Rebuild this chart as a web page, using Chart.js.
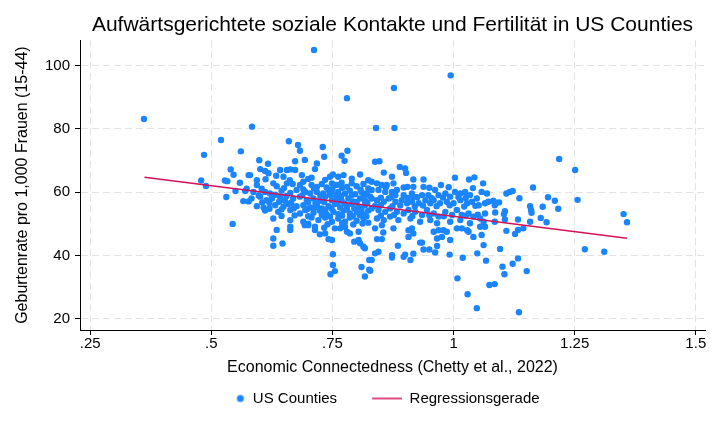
<!DOCTYPE html>
<html>
<head>
<meta charset="utf-8">
<title>Soziale Kontakte und Fertilität</title>
<script src="https://cdn.jsdelivr.net/npm/chart.js@4"></script>
<style>
  html, body { margin: 0; padding: 0; background: #fff; }
</style>
</head>
<body>
<canvas id="chart" width="720" height="432"></canvas>
<script>
// Werte: [Economic Connectedness, Geburtenrate]
const topOutliers = [[0.361,83.1],[0.712,104.9],[0.994,96.9],[0.780,89.7],[0.877,92.9],[0.584,80.7],[0.840,80.3],[0.878,80.3]];

const leftCounties = [[0.520,76.5],[0.485,71.8],[0.561,72.9],[0.540,67.2],[0.546,65.5],[0.479,63.7],[0.489,62.0],[0.528,63.7],[0.533,63.5],[0.559,63.0],[0.577,65.4],[0.550,60.4],[0.570,60.4],[0.573,61.1],[0.531,58.5],[0.566,57.2],[0.577,57.1],[0.544,50.0]];

const upperCore = [[0.660,76.1],[0.679,74.9],[0.683,73.1],[0.730,74.3],[0.733,71.2],[0.769,71.5],[0.781,73.1],[0.775,69.9],[0.599,70.1],[0.617,69.0],[0.673,69.8],[0.693,70.2],[0.718,69.1],[0.601,67.3],[0.611,66.7],[0.618,66.0],[0.642,67.0],[0.656,67.0],[0.663,67.2],[0.673,67.0],[0.714,67.3],[0.838,69.6],[0.847,69.8],[0.856,66.2],[0.889,68.0],[0.900,67.5],[0.902,66.1]];

const midCore = [
  [0.580,65.4],[0.594,63.8],[0.634,65.2],[0.649,64.9],[0.687,65.4],[0.707,64.6],[0.745,64.9],[0.751,65.6],[0.762,64.9],[0.773,65.4],[0.807,65.6],[0.824,63.8],
  [0.594,62.3],[0.628,62.8],[0.635,61.9],[0.656,62.8],[0.668,62.6],[0.683,62.3],[0.690,63.3],[0.707,62.3],[0.718,61.7],[0.728,62.6],[0.738,61.5],[0.749,62.8],[0.759,62.3],[0.769,63.0],[0.780,61.7],[0.790,62.8],[0.800,61.9],[0.814,62.6],[0.824,61.2],
  [0.587,60.1],[0.611,60.1],[0.621,59.6],[0.645,60.5],[0.663,59.8],[0.676,60.7],[0.694,60.1],[0.704,59.6],[0.718,60.1],[0.731,59.6],[0.742,60.7],[0.752,59.4],[0.762,60.1],[0.776,59.6],[0.786,60.5],[0.797,59.4],[0.810,60.1],[0.821,59.6],
  [0.583,58.0],[0.601,58.6],[0.614,57.5],[0.625,58.0],[0.642,58.6],[0.652,57.3],[0.669,58.0],[0.683,58.6],[0.697,57.5],[0.711,58.0],[0.724,57.3],[0.735,58.6],[0.749,57.5],[0.759,58.4],[0.769,57.3],[0.783,58.0],[0.793,57.1],[0.807,58.0],[0.817,57.3],[0.828,58.6],
  [0.594,55.6],[0.608,55.2],[0.632,55.9],[0.649,55.4],[0.659,56.3],[0.676,55.6],[0.690,55.9],[0.704,55.2],[0.718,55.9],[0.728,54.9],[0.742,55.6],[0.755,56.3],[0.766,55.2],[0.780,55.6],[0.790,56.3],[0.804,55.4],[0.817,55.9],
  [0.611,54.2],[0.638,53.8],[0.663,54.4],[0.683,53.3],[0.694,54.4],[0.711,53.5],[0.724,54.2],[0.738,53.1],[0.752,53.8],[0.762,53.1],[0.773,54.2],[0.786,53.3],[0.800,53.8],[0.814,53.1],[0.824,54.2],
  [0.628,51.7],[0.663,51.2],[0.690,50.7],[0.707,52.0],[0.721,51.2],[0.735,52.0],[0.749,50.7],[0.762,51.7],[0.776,50.7],[0.786,52.0],[0.800,51.0],[0.814,51.7],[0.824,50.4]
];

// Punkte zwischen den Reihen im dichten Kern
const coreFill = [
  [0.612,64.1],[0.662,63.8],[0.700,64.2],[0.735,63.9],[0.790,64.3],
  [0.604,61.1],[0.650,61.3],[0.690,60.9],[0.712,61.2],[0.750,61.0],[0.770,61.4],[0.808,60.8],
  [0.598,59.0],[0.632,59.2],[0.655,58.8],[0.688,59.1],[0.725,58.9],[0.745,59.2],[0.768,58.8],[0.790,59.1],[0.815,58.9],
  [0.605,56.8],[0.620,56.6],[0.640,57.0],[0.665,56.7],[0.700,56.9],[0.715,56.5],[0.733,56.9],[0.760,56.7],[0.775,56.4],[0.800,56.9],[0.822,56.6],
  [0.620,54.8],[0.645,54.6],[0.670,54.9],[0.698,54.7],[0.712,55.0],[0.735,54.5],[0.748,54.9],[0.780,54.6],[0.795,54.9],[0.810,54.5],
  [0.645,52.5],[0.672,52.7],[0.700,52.4],[0.728,52.8],[0.745,52.3],[0.770,52.6],[0.792,52.4],[0.806,52.8],[0.820,52.4],
  [0.700,50.1],[0.740,49.9],[0.770,50.2],[0.793,49.8],[0.812,50.1],
  [0.860,61.5],[0.905,61.7],[0.950,61.4],[0.990,61.6],[1.040,61.3],
  [0.850,58.3],[0.872,58.5],[0.905,58.2],[0.925,58.4],[0.955,58.1],[0.978,58.3],[1.010,58.5],[1.025,58.2],
  [0.838,55.7],[0.850,55.9],[0.874,55.6],[0.890,55.8],[0.920,55.5],[0.937,55.8],[0.965,55.6],[0.992,55.9],[1.022,55.5],[1.045,55.7],
  [0.850,52.6],[0.877,52.8],[0.915,52.5],[0.950,52.7],[0.980,52.4],[1.025,52.6],[1.050,52.9]
];

const lowerMid = [[0.635,48.1],[0.663,48.1],[0.663,49.1],[0.628,45.4],[0.628,43.1],[0.647,43.8],[0.693,49.6],[0.700,49.6],[0.714,49.1],[0.714,48.1],[0.724,46.7],[0.735,47.0],[0.742,45.2],[0.749,44.9],[0.733,48.8],[0.755,48.6],[0.766,48.6],[0.776,49.1],[0.780,47.5],[0.786,47.0],[0.804,47.5],[0.795,44.4],[0.804,44.9],[0.807,43.9],[0.817,42.3],[0.814,42.8],[0.751,40.4],[0.751,37.0],[0.755,35.1],[0.746,34.1],[0.810,36.4],[0.817,33.4],[0.826,38.6],[0.826,35.5]];

const eastCore = [
  [0.873,64.9],[0.917,64.0],[0.938,64.0],[1.003,64.6],[1.032,64.0],[1.043,64.7],[1.061,62.8],[0.974,62.3],[0.938,61.7],[0.917,61.7],[0.897,61.5],
  [0.831,63.3],[0.842,62.8],[0.852,62.3],[0.862,62.3],[0.876,62.8],
  [0.831,60.7],[0.845,60.7],[0.859,60.1],[0.873,60.1],[0.883,60.7],
  [0.880,59.1],[0.897,59.1],[0.914,59.6],[0.917,58.6],[0.935,59.1],[0.948,59.1],
  [0.962,60.7],[0.969,59.1],[0.983,59.6],[0.993,58.6],[1.003,60.1],[1.014,59.6],[1.024,60.1],[1.034,59.1],[1.048,58.0],[1.058,60.1],[1.069,59.6],[1.072,57.0],
  [0.831,58.0],[0.842,57.5],[0.856,57.0],[0.866,58.0],[0.880,57.0],[0.893,57.5],[0.904,56.5],[0.914,57.0],[0.928,56.5],[0.942,57.5],[0.952,56.5],[0.959,57.5],[0.972,56.5],[0.986,57.0],[1.000,56.5],[1.014,57.5],[1.028,56.5],[1.038,57.0],[1.052,55.9],[1.065,56.5],
  [0.831,54.9],[0.845,54.4],[0.859,53.8],[0.869,54.9],[0.883,53.8],[0.897,53.3],[0.907,54.4],[0.921,53.8],[0.935,52.8],[0.945,54.4],[0.959,53.3],[0.969,52.3],[0.983,53.8],[0.997,52.8],[1.007,54.4],[1.017,52.8],[1.031,53.3],[1.041,52.3],[1.055,51.7],[1.065,53.3],
  [0.842,51.7],[0.856,51.2],[0.869,52.3],[0.886,51.2],[0.911,51.7],[0.931,50.7],[0.952,51.2],[0.966,50.2],[0.993,50.7],[1.014,51.2],[1.034,50.2],[1.062,50.7]
];

const lowerEast = [[0.838,48.6],[0.852,49.6],[0.855,47.3],[0.876,48.6],[0.842,45.2],[0.852,45.2],[0.838,40.7],[0.845,41.2],[0.831,38.6],[0.828,35.2],[0.873,40.1],[0.873,39.4],[0.885,43.1],[0.897,39.6],[0.900,40.3],[0.911,38.6],[0.917,40.6],[0.907,48.0],[0.914,48.6],[0.907,45.9],[0.917,47.0],[0.931,44.1],[0.935,44.1],[0.938,41.9],[0.950,41.9],[0.962,41.0],[0.966,43.0],[0.959,47.5],[0.969,48.0],[0.979,48.0],[0.986,47.5],[0.976,45.9],[0.966,45.4],[0.993,44.9],[0.992,40.3],[1.007,48.6],[1.017,48.6],[1.028,48.0],[1.031,47.5],[1.008,32.8],[1.019,39.3],[1.029,27.8],[1.041,45.9],[1.049,40.7],[1.048,23.4],[1.058,46.5],[1.062,43.3],[1.067,38.4],[1.074,30.7],[1.055,49.1],[1.065,49.1],
  [1.109,47.8],[1.127,46.8],[1.133,48.1],[1.144,48.6],[1.096,42.1],[1.133,39.1],[1.122,37.4],[1.101,36.5],[1.105,34.1],[1.151,35.1],[1.085,31.0],[1.135,22.1],[1.271,42.0],[1.311,41.2]];

const farEast = [[1.218,70.5],[1.251,67.0],[1.256,57.6],[1.164,61.5],[1.109,59.6],[1.116,60.1],[1.122,60.4],[1.136,58.1],[1.195,58.4],[1.209,57.3],[1.082,57.3],[1.089,56.7],[1.094,56.8],[1.085,55.9],[1.086,53.6],[1.106,54.0],[1.104,53.1],[1.158,55.6],[1.160,54.4],[1.161,53.5],[1.184,55.4],[1.216,54.8],[1.180,51.9],[1.192,50.5],[1.158,50.7],[1.133,51.4],[1.106,51.4],[1.085,50.7],[1.351,53.1],[1.358,50.5]];

// Regressionsgerade (Endpunkte)
const fitX = [0.362, 1.358];
const fitY = [64.7, 45.5];

const xTicks = [0.25, 0.5, 0.75, 1, 1.25, 1.5];
const xTickLabels = ['.25', '.5', '.75', '1', '1.25', '1.5'];
const yTicks = [20, 40, 60, 80, 100];

const blue = '#1a85ff';
const cranberry = '#d41159';

const counties = [].concat(topOutliers, leftCounties, upperCore, midCore, coreFill, lowerMid, eastCore, lowerEast, farEast)
    .map(([x, y]) => ({ x: x, y: y }));
const fitLine = fitX.map((x, i) => ({ x: x, y: fitY[i] }));

// kleine Symbole für die Legende
function dotSymbol() {
    const c = document.createElement('canvas');
    c.width = 40; c.height = 10;
    const g = c.getContext('2d');
    g.fillStyle = blue;
    g.beginPath();
    g.arc(35, 5, 3.5, 0, Math.PI * 2);
    g.fill();
    return c;
}
function lineSymbol() {
    const c = document.createElement('canvas');
    c.width = 40; c.height = 4;
    const g = c.getContext('2d');
    g.strokeStyle = cranberry;
    g.lineWidth = 1.5;
    g.beginPath();
    g.moveTo(10, 2);
    g.lineTo(40, 2);
    g.stroke();
    return c;
}
const legendSymbols = [dotSymbol(), lineSymbol()];

Chart.defaults.font.family = "'Liberation Sans', Arial, sans-serif";
Chart.defaults.color = '#000';

const gridStyle = {
    color: '#e3e3e3',
    lineWidth: 1,
    drawTicks: true,
    tickLength: 5,
    tickColor: '#000',
    tickWidth: 1
};
const borderStyle = { display: true, color: '#000', width: 1, dash: [7, 4] };

new Chart(document.getElementById('chart'), {
    type: 'scatter',
    data: {
        datasets: [{
            label: 'US Counties',
            data: counties,
            backgroundColor: blue,
            borderColor: blue,
            pointRadius: 3.2,
            pointBorderWidth: 0,
            order: 2
        }, {
            label: 'Regressionsgerade',
            data: fitLine,
            showLine: true,
            borderColor: cranberry,
            borderWidth: 1.5,
            pointRadius: 0,
            order: 1
        }]
    },
    options: {
        responsive: false,
        animation: false,
        devicePixelRatio: 1,
        layout: { padding: { left: 40, right: 15, top: 0, bottom: 16 } },
        scales: {
            x: {
                type: 'linear',
                min: 0.229,
                max: 1.519,
                afterBuildTicks: axis => { axis.ticks = xTicks.map(v => ({ value: v })); },
                afterFit: axis => { axis.height = 36; },
                ticks: {
                    autoSkip: false,
                    maxRotation: 0,
                    padding: 0,
                    font: { size: 15 },
                    callback: v => xTickLabels[xTicks.indexOf(v)]
                },
                grid: gridStyle,
                border: borderStyle,
                title: {
                    display: true,
                    text: 'Economic Connectedness (Chetty et al., 2022)',
                    font: { size: 16 },
                    padding: { top: 0, bottom: -11 }
                }
            },
            y: {
                type: 'linear',
                min: 16.5,
                max: 108,
                afterBuildTicks: axis => { axis.ticks = yTicks.map(v => ({ value: v })); },
                afterFit: axis => { axis.width = 40; },
                ticks: {
                    padding: 5,
                    font: { size: 15 }
                },
                grid: gridStyle,
                border: borderStyle,
                title: {
                    display: true,
                    text: 'Geburtenrate pro 1,000 Frauen (15-44)',
                    font: { size: 16 },
                    padding: { top: -27, bottom: 0 }
                }
            }
        },
        plugins: {
            title: {
                display: true,
                fullSize: false,
                text: 'Aufwärtsgerichtete soziale Kontakte und Fertilität in US Counties',
                font: { size: 21, weight: 'normal' },
                color: '#000',
                padding: { top: 13, bottom: 2 }
            },
            legend: {
                position: 'bottom',
                labels: {
                    usePointStyle: true,
                    pointStyleWidth: 40,
                    padding: 25,
                    font: { size: 15 },
                    sort: (a, b) => a.datasetIndex - b.datasetIndex,
                    generateLabels: chart => {
                        const items = Chart.defaults.plugins.legend.labels.generateLabels(chart);
                        items.forEach(item => { item.pointStyle = legendSymbols[item.datasetIndex]; });
                        return items;
                    }
                }
            },
            tooltip: { enabled: false }
        }
    }
});
</script>
</body>
</html>
